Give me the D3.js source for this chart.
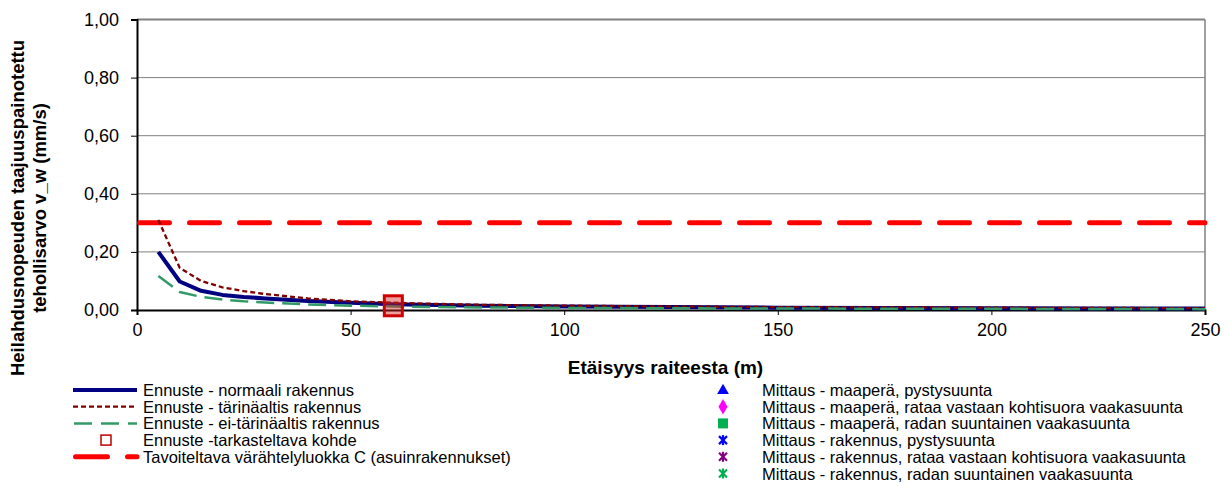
<!DOCTYPE html>
<html>
<head>
<meta charset="utf-8">
<script src="https://cdn.jsdelivr.net/npm/d3@7"></script>
<style>
  html, body { margin: 0; padding: 0; background: #fff; }
  svg text { font-family: "Liberation Sans", Arial, sans-serif; fill: #000; }
</style>
</head>
<body>
<svg id="chart" width="1231" height="483"></svg>
<script>
// Distance from the track (m)
const distances = [5, 10, 15, 20, 25, 30, 40, 50, 60, 70, 80, 100, 125, 150, 175, 200, 225, 250];
// Forecast vibration v_w (mm/s) for three building types
const normalBuilding    = [0.200, 0.098, 0.066, 0.052, 0.045, 0.040, 0.031, 0.025, 0.020, 0.017, 0.015, 0.012, 0.010, 0.008, 0.007, 0.006, 0.0055, 0.005];
const sensitiveBuilding = [0.310, 0.145, 0.100, 0.078, 0.065, 0.055, 0.040, 0.030, 0.025, 0.021, 0.018, 0.015, 0.012, 0.010, 0.009, 0.008, 0.007, 0.0065];
const robustBuilding    = [0.117, 0.062, 0.045, 0.036, 0.030, 0.026, 0.019, 0.015, 0.012, 0.010, 0.009, 0.007, 0.006, 0.005, 0.0045, 0.004, 0.0035, 0.003];
// Examined site
const targetSite = { distance: 60, value: 0.0145 };
// Target vibration class C (residential buildings)
const targetLevel = 0.30;

const xTicks = [0, 50, 100, 150, 200, 250];
const yTicks = [0, 0.2, 0.4, 0.6, 0.8, 1.0];

const leftLegend = [
  "Ennuste - normaali rakennus",
  "Ennuste - tärinäaltis rakennus",
  "Ennuste - ei-tärinäaltis rakennus",
  "Ennuste -tarkasteltava kohde",
  "Tavoiteltava värähtelyluokka C (asuinrakennukset)"
];
const rightLegend = [
  "Mittaus - maaperä, pystysuunta",
  "Mittaus - maaperä, rataa vastaan kohtisuora vaakasuunta",
  "Mittaus - maaperä, radan suuntainen vaakasuunta",
  "Mittaus - rakennus, pystysuunta",
  "Mittaus - rakennus, rataa vastaan kohtisuora vaakasuunta",
  "Mittaus - rakennus, radan suuntainen vaakasuunta"
];

const svg = d3.select("#chart");
const plot = { left: 137, right: 1205, top: 19.5, bottom: 310 };

const x = d3.scaleLinear().domain([0, 250]).range([plot.left, plot.right]);
const y = d3.scaleLinear().domain([0, 1]).range([plot.bottom, plot.top]);
const fmt = v => d3.format(".2f")(v).replace(".", ",");

// Horizontal gridlines
svg.append("g").selectAll("line").data(yTicks.filter(d => d > 0)).join("line")
  .attr("x1", plot.left).attr("x2", plot.right)
  .attr("y1", d => y(d)).attr("y2", d => y(d))
  .attr("stroke", "#808080").attr("stroke-width", d => d === 1 ? 2 : 1);

// Right border
svg.append("line").attr("x1", plot.right).attr("x2", plot.right)
  .attr("y1", plot.top).attr("y2", plot.bottom)
  .attr("stroke", "#808080").attr("stroke-width", 1.5);

// Axes
const yAxis = svg.append("g").attr("transform", `translate(${plot.left},0)`)
  .call(d3.axisLeft(y).tickValues(yTicks).tickFormat(fmt).tickSize(6).tickPadding(12));
const xAxis = svg.append("g").attr("transform", `translate(0,${plot.bottom})`)
  .call(d3.axisBottom(x).tickValues(xTicks).tickSize(5).tickPadding(8));
[yAxis, xAxis].forEach(a => {
  a.select(".domain").attr("stroke", "#000").attr("stroke-width", 2);
  a.selectAll(".tick line").attr("stroke", "#000");
  a.selectAll(".tick text").attr("font-size", 18).attr("font-family", "Liberation Sans, Arial, sans-serif");
});
xAxis.selectAll(".tick text").attr("dy", "0.71em");

// Target level
svg.append("line")
  .attr("x1", x(0) + 2.5).attr("x2", x(250))
  .attr("y1", y(targetLevel)).attr("y2", y(targetLevel))
  .attr("stroke", "#ff0000").attr("stroke-width", 5)
  .attr("stroke-dasharray", "30,20").attr("stroke-linecap", "round");

// Forecast curves
const line = d3.line().x(d => x(d[0])).y(d => y(d[1]));
const series = [
  { values: normalBuilding,    color: "#000080", width: 4,   dash: null },
  { values: sensitiveBuilding, color: "#800000", width: 2.3, dash: "5,3" },
  { values: robustBuilding,    color: "#339966", width: 2.5, dash: "18,8" }
];
series.forEach(s => {
  svg.append("path")
    .datum(distances.map((d, i) => [d, s.values[i]]))
    .attr("d", line)
    .attr("fill", "none")
    .attr("stroke", s.color)
    .attr("stroke-width", s.width)
    .attr("stroke-linejoin", "round")
    .attr("stroke-dasharray", s.dash);
});

// Examined site marker
svg.append("rect")
  .attr("x", x(targetSite.distance) - 9).attr("y", y(targetSite.value) - 10)
  .attr("width", 18).attr("height", 20)
  .attr("fill", "rgba(220,40,40,0.45)")
  .attr("stroke", "#d00000").attr("stroke-width", 3);

// Axis titles
svg.append("text")
  .attr("x", 665.5).attr("y", 374)
  .attr("text-anchor", "middle")
  .attr("font-size", 19).attr("font-weight", "bold")
  .text("Etäisyys raiteesta (m)");

const yTitle = svg.append("text")
  .attr("transform", "translate(0,208) rotate(-90)")
  .attr("text-anchor", "middle")
  .attr("font-size", 18.5).attr("font-weight", "bold");
yTitle.append("tspan").attr("x", 0).attr("y", 24).text("Heilahdusnopeuden taajuuspainotettu");
yTitle.append("tspan").attr("x", 0).attr("y", 46).text("tehollisarvo v_w (mm/s)");

// Left legend
const rowY = i => 390 + i * 16.7;
const leftG = svg.append("g");
leftG.selectAll("text").data(leftLegend).join("text")
  .attr("x", 143).attr("y", (d, i) => rowY(i) + 6)
  .attr("font-size", 16.5).text(d => d);
leftG.append("line").attr("x1", 73).attr("x2", 137).attr("y1", rowY(0)).attr("y2", rowY(0))
  .attr("stroke", "#000080").attr("stroke-width", 4);
leftG.append("line").attr("x1", 73).attr("x2", 137).attr("y1", rowY(1)).attr("y2", rowY(1))
  .attr("stroke", "#800000").attr("stroke-width", 2.3).attr("stroke-dasharray", "5,3");
leftG.append("line").attr("x1", 74).attr("x2", 137).attr("y1", rowY(2)).attr("y2", rowY(2))
  .attr("stroke", "#339966").attr("stroke-width", 2.5).attr("stroke-dasharray", "18,9");
leftG.append("rect").attr("x", 101).attr("y", rowY(3) - 5).attr("width", 10).attr("height", 10)
  .attr("fill", "#fff").attr("stroke", "#c00000").attr("stroke-width", 1.5);
leftG.append("line").attr("x1", 75.5).attr("x2", 137).attr("y1", rowY(4)).attr("y2", rowY(4))
  .attr("stroke", "#ff0000").attr("stroke-width", 5).attr("stroke-linecap", "round")
  .attr("stroke-dasharray", "32,20");

// Right legend
const rightG = svg.append("g");
rightG.selectAll("text").data(rightLegend).join("text")
  .attr("x", 762).attr("y", (d, i) => rowY(i) + 6)
  .attr("font-size", 16.5).text(d => d);
const mx = 723;
const sym = (type, size) => d3.symbol().type(type).size(size)();
rightG.append("path").attr("d", sym(d3.symbolTriangle, 60))
  .attr("transform", `translate(${mx},${rowY(0) + 0.5})`).attr("fill", "#0000ff");
rightG.append("path").attr("d", sym(d3.symbolDiamond, 70))
  .attr("transform", `translate(${mx},${rowY(1)})`).attr("fill", "#ff00ff");
rightG.append("rect").attr("x", mx - 5).attr("y", rowY(2) - 5).attr("width", 10).attr("height", 10)
  .attr("fill", "#00b050");
const asteriskColors = ["#0000ff", "#800080", "#00b050"];
asteriskColors.forEach((c, k) => {
  const cy = rowY(3 + k);
  const g = rightG.append("g").attr("transform", `translate(${mx},${cy})`)
    .attr("stroke", c).attr("stroke-width", 2.2);
  g.append("line").attr("x1", -4).attr("y1", -4).attr("x2", 4).attr("y2", 4);
  g.append("line").attr("x1", -4).attr("y1", 4).attr("x2", 4).attr("y2", -4);
  g.append("line").attr("x1", 0).attr("y1", -5).attr("x2", 0).attr("y2", 5);
});
</script>
</body>
</html>
